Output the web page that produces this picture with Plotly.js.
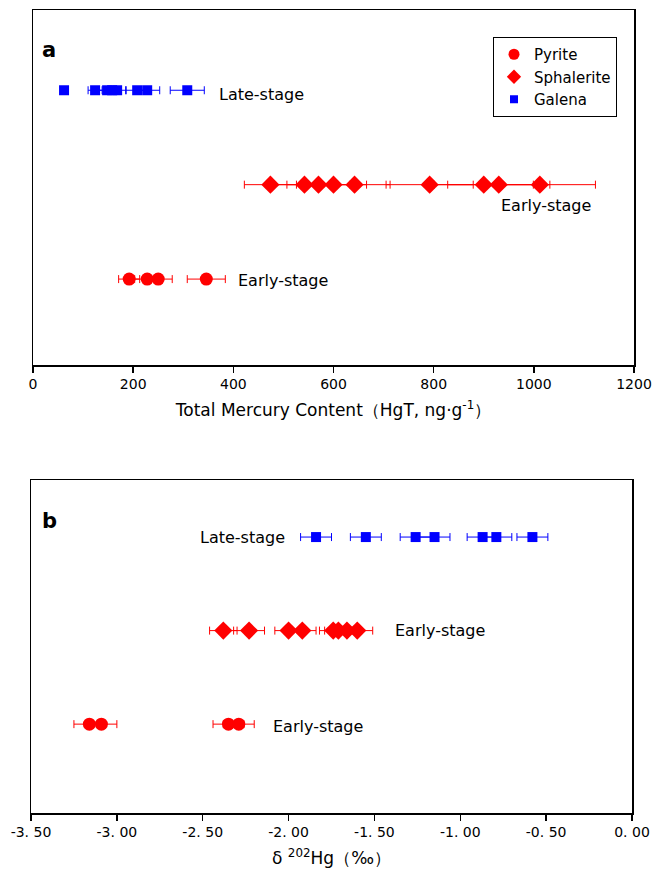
<!DOCTYPE html>
<html>
<head>
<meta charset="utf-8">
<script src="https://cdn.plot.ly/plotly-3.0.1.min.js"></script>
<style>html,body{margin:0;padding:0;background:#fff;}#chart{width:656px;height:871px;}</style>
</head>
<body>
<div id="chart"></div>
<script>
// Panel a: total mercury content (ng/g)
const hgtPyrite = [192, 228, 250, 346];
const hgtPyriteErr = [21, 25, 28, 38];
const hgtSphalerite = [474, 542, 570, 600, 642, 792, 900, 930, 1012];
const hgtSphaleriteErr = [52, 60, 63, 66, 71, 87, 99, 102, 111];
const hgtGalena = [62, 124, 148, 158, 168, 208, 228, 308];
const hgtGalenaErr = [7, 14, 16, 17, 18, 23, 25, 34];

// Panel b: delta 202Hg (permil)
const d202Pyrite = [-3.16, -3.09, -2.35, -2.29];
const d202PyriteErr = [0.09, 0.09, 0.09, 0.09];
const d202Sphalerite = [-2.38, -2.23, -2.00, -1.92, -1.74, -1.71, -1.66, -1.60];
const d202SphaleriteErr = [0.08, 0.09, 0.08, 0.08, 0.08, 0.08, 0.08, 0.09];
const d202Galena = [-1.84, -1.55, -1.26, -1.15, -0.87, -0.79, -0.58];
const d202GalenaErr = [0.09, 0.09, 0.09, 0.09, 0.09, 0.09, 0.09];

const rowPyrite = 1, rowSphalerite = 2, rowGalena = 3;
const minerals = ['Pyrite', 'Sphalerite', 'Galena'];
const stageLabels = ['Early-stage', 'Early-stage', 'Late-stage'];

const xTicksA = [0, 200, 400, 600, 800, 1000, 1200];
const xTicksB = [-3.5, -3.0, -2.5, -2.0, -1.5, -1.0, -0.5, 0.0];
const xTickTextB = ['-3. 50', '-3. 00', '-2. 50', '-2. 00', '-1. 50', '-1. 00', '-0. 50', '0. 00'];

const RED = '#ff0000', BLUE = '#0000ff';
const FONT = 'DejaVu Sans, Liberation Sans, sans-serif';

function row(n, val) { return val.map(() => n); }
function tr(x, err, yv, color, symbol, size, xa, ya) {
  return {
    type: 'scatter', mode: 'markers', x: x, y: row(yv, x), xaxis: xa, yaxis: ya,
    showlegend: false, hoverinfo: 'skip',
    marker: {color: color, symbol: symbol, size: size, line: {width: 0}},
    error_x: {type: 'data', array: err, visible: true, color: color, thickness: 1, width: 4}
  };
}

const data = [
  tr(hgtPyrite, hgtPyriteErr, rowPyrite, RED, 'circle', 13, 'x', 'y'),
  tr(hgtSphalerite, hgtSphaleriteErr, rowSphalerite, RED, 'diamond', 14, 'x', 'y'),
  tr(hgtGalena, hgtGalenaErr, rowGalena, BLUE, 'square', 10, 'x', 'y'),
  tr(d202Pyrite, d202PyriteErr, rowPyrite, RED, 'circle', 13, 'x2', 'y2'),
  tr(d202Sphalerite, d202SphaleriteErr, rowSphalerite, RED, 'diamond', 14, 'x2', 'y2'),
  tr(d202Galena, d202GalenaErr, rowGalena, BLUE, 'square', 10, 'x2', 'y2'),
  // legend entries
  {type:'scatter', mode:'markers', x:[null], y:[null], xaxis:'x', yaxis:'y', name: minerals[0], marker:{color:RED, symbol:'circle', size:11}},
  {type:'scatter', mode:'markers', x:[null], y:[null], xaxis:'x', yaxis:'y', name: minerals[1], marker:{color:RED, symbol:'diamond', size:11}},
  {type:'scatter', mode:'markers', x:[null], y:[null], xaxis:'x', yaxis:'y', name: minerals[2], marker:{color:BLUE, symbol:'square', size:8}}
];

const axisCommon = {
  showline: true, linecolor: '#000', linewidth: 1.5, mirror: true,
  showgrid: false, zeroline: false, ticks: 'outside', ticklen: 6, tickwidth: 1.5, tickcolor: '#000',
  tickfont: {family: FONT, size: 14, color: '#000'}
};
const yCommon = {
  showline: true, linecolor: '#000', linewidth: 1.5, mirror: true,
  showgrid: false, zeroline: false, showticklabels: false, ticks: ''
};

const ann = (text, x, y, xref, yref, xanchor) => ({
  text: text, x: x, y: y, xref: xref, yref: yref, xanchor: xanchor || 'left', yanchor: 'middle',
  showarrow: false, font: {family: FONT, size: 16, color: '#000'}
});

const layout = {
  width: 656, height: 871,
  margin: {l: 0, r: 0, t: 0, b: 0},
  paper_bgcolor: '#fff', plot_bgcolor: '#fff',
  showlegend: true,
  legend: {
    x: 493/656, y: 1 - 37/871, xanchor: 'left', yanchor: 'top',
    bgcolor: '#fff', bordercolor: '#000', borderwidth: 1,
    font: {family: FONT, size: 15, color: '#000'}, tracegroupgap: 0, itemwidth: 30
  },
  xaxis: Object.assign({}, axisCommon, {
    domain: [33/656, 634/656], anchor: 'y', range: [0, 1200], tickvals: xTicksA,
    title: {text: 'Total Mercury Content（HgT, ng·g<sup>-1</sup>）', font: {family: FONT, size: 17, color: '#000'}, standoff: 13}
  }),
  yaxis: Object.assign({}, yCommon, {domain: [1 - 365/871, 1 - 10/871], anchor: 'x', range: [0.09, 3.85]}),
  xaxis2: Object.assign({}, axisCommon, {
    domain: [31/656, 632/656], anchor: 'y2', range: [-3.5, 0], tickvals: xTicksB, ticktext: xTickTextB,
    title: {text: 'δ <sup>202</sup>Hg（‰）', font: {family: FONT, size: 17, color: '#000'}, standoff: 13}
  }),
  yaxis2: Object.assign({}, yCommon, {domain: [1 - 813/871, 1 - 480/871], anchor: 'x2', range: [0.05, 3.61]}),
  annotations: [
    {text: '<b>a</b>', x: 40/656, y: 1 - 50/871, xref: 'paper', yref: 'paper', xanchor: 'left', yanchor: 'middle', showarrow: false, font: {family: FONT, size: 21, color: '#000'}},
    {text: '<b>b</b>', x: 40/656, y: 1 - 521/871, xref: 'paper', yref: 'paper', xanchor: 'left', yanchor: 'middle', showarrow: false, font: {family: FONT, size: 21, color: '#000'}},
    ann(stageLabels[2], 368, rowGalena - 0.04, 'x', 'y'),
    ann(stageLabels[1], 930, rowSphalerite - 0.22, 'x', 'y'),
    ann(stageLabels[0], 406, rowPyrite - 0.02, 'x', 'y'),
    ann(stageLabels[2], -2.53, rowGalena, 'x2', 'y2'),
    ann(stageLabels[1], -1.39, rowSphalerite, 'x2', 'y2'),
    ann(stageLabels[0], -2.10, rowPyrite - 0.03, 'x2', 'y2')
  ]
};

Plotly.newPlot('chart', data, layout, {displayModeBar: false, staticPlot: true});
</script>
</body>
</html>
